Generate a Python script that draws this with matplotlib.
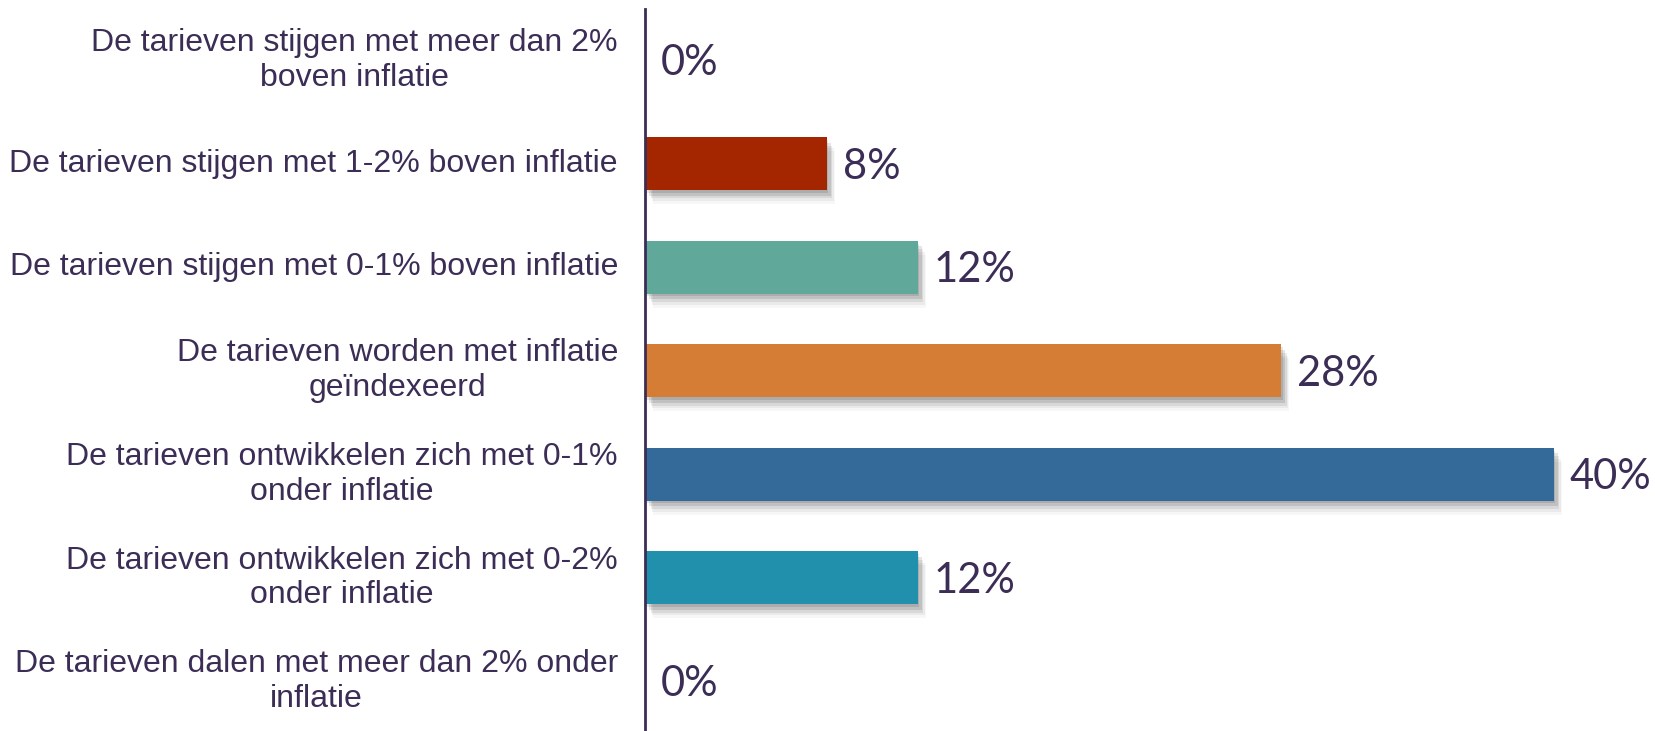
import matplotlib
matplotlib.use("Agg")
import matplotlib.pyplot as plt
import matplotlib.patheffects as pe
from matplotlib.transforms import offset_copy

# Survey answers, top to bottom
categories = [
    "De tarieven stijgen met meer dan 2%\nboven inflatie",
    "De tarieven stijgen met 1-2% boven inflatie",
    "De tarieven stijgen met 0-1% boven inflatie",
    "De tarieven worden met inflatie\ngeïndexeerd",
    "De tarieven ontwikkelen zich met 0-1%\nonder inflatie",
    "De tarieven ontwikkelen zich met 0-2%\nonder inflatie",
    "De tarieven dalen met meer dan 2% onder\ninflatie",
]
values = [0, 8, 12, 28, 40, 12, 0]
bar_colors = ["#a32600", "#a32600", "#60a899", "#d57d34", "#336a9a", "#2190ad", "#2190ad"]

text_color = "#3b2d55"

fig = plt.figure(figsize=(16.56, 7.31), dpi=100)
ax = fig.add_axes([645 / 1656, 0, 1 - 645 / 1656, 722.5 / 731])

# soft drop shadow: a few offset layers stacked up
shadow = [
    pe.SimplePatchShadow(offset=(1, -2), shadow_rgbFace="#000000", alpha=0.10),
    pe.SimplePatchShadow(offset=(3, -4), shadow_rgbFace="#000000", alpha=0.10),
    pe.SimplePatchShadow(offset=(4, -6), shadow_rgbFace="#000000", alpha=0.08),
    pe.SimplePatchShadow(offset=(5, -8), shadow_rgbFace="#000000", alpha=0.05),
    pe.SimplePatchShadow(offset=(6, -10), shadow_rgbFace="#000000", alpha=0.03),
    pe.Normal(),
]

ypos = list(range(len(categories)))
bars = ax.barh(ypos, values, height=0.51, color=bar_colors, zorder=2)
for b, v in zip(bars, values):
    if v > 0:
        b.set_path_effects(shadow)

for y, v in zip(ypos, values):
    tr = offset_copy(ax.transData, fig=fig, x=16, y=-3, units="dots")
    ax.text(v, y, f"{v}%", transform=tr, ha="left", va="center",
            fontsize=30, color=text_color, family="Lato")

# category labels to the left of the axis line
for y, c in zip(ypos, categories):
    tr = offset_copy(ax.get_yaxis_transform(), fig=fig, x=-27, y=0, units="dots")
    ax.text(0, y, c, transform=tr, ha="right", va="center", multialignment="center",
            fontsize=23, color=text_color, family="Liberation Sans", linespacing=1.2)

ax.set_xlim(0, 44.5)
ax.set_ylim(6.48, -0.5)
ax.set_xticks([])
ax.set_yticks([])
for s in ["top", "right", "bottom"]:
    ax.spines[s].set_visible(False)
ax.spines["left"].set_color(text_color)
ax.spines["left"].set_linewidth(2)
ax.spines["left"].set_zorder(3)

fig.savefig("out.png", dpi=100)
